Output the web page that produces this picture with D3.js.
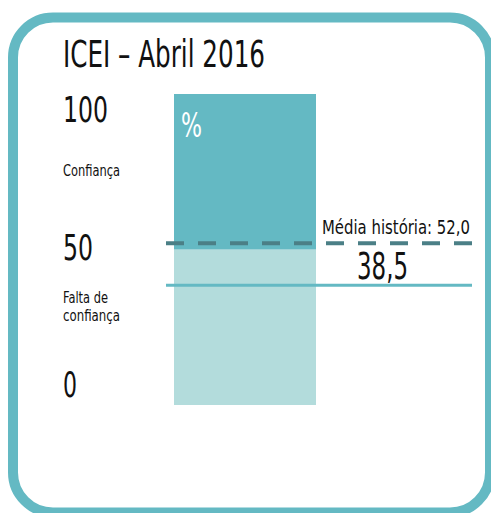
<!DOCTYPE html>
<html>
<head>
<meta charset="utf-8">
<script src="https://cdn.jsdelivr.net/npm/d3@7"></script>
<style>
  html, body { margin: 0; padding: 0; background: #fff; }
  svg { display: block; }
  text { font-family: "Liberation Sans Narrow", "DejaVu Sans Condensed", "Roboto", sans-serif; fill: #111; }
</style>
</head>
<body>
<div id="chart"></div>
<script>
// chart values
var title = "ICEI – Abril 2016";
var segmentNames = ["Falta de confiança", "Confiança"];
var segmentStarts = [0, 50];
var segmentEnds = [50, 100];
var tickValues = [0, 50, 100];
var tickLabels = ["0", "50", "100"];
var currentValue = 38.5;
var currentLabel = "38,5";
var historyValue = 52.0;
var historyLabel = "Média história: 52,0";

var w = 491, h = 513;

var svg = d3.select("#chart")
  .append("svg")
  .attr("width", w)
  .attr("height", h);

// rounded frame
svg.append("rect")
  .attr("x", 13)
  .attr("y", 17.5)
  .attr("width", 477)
  .attr("height", 495)
  .attr("rx", 40)
  .attr("fill", "#fff")
  .attr("stroke", "#64b9c3")
  .attr("stroke-width", 10);

//*** scales ***//
var y = d3.scaleLinear().domain([0, 100]).range([405, 94]);
// labels sit a little inside the bar ends
var labelY = d3.scaleLinear().domain([0, 100]).range([384, 109]);
var x = d3.scaleBand().domain(["ICEI"]).range([174, 316]).padding(0);

var segColors = ["#b3dcdc", "#64b9c3"];

svg.selectAll("rect.seg")
  .data(segmentStarts)
  .enter()
  .append("rect")
  .attr("class", "seg")
  .attr("x", x("ICEI"))
  .attr("width", x.bandwidth())
  .attr("y", function (d, i) { return y(segmentEnds[i]); })
  .attr("height", function (d, i) { return y(d) - y(segmentEnds[i]); })
  .attr("fill", function (d, i) { return segColors[i]; });

// title
svg.append("text")
  .attr("x", 63)
  .attr("y", 67)
  .attr("font-size", 37)
  .attr("textLength", 202)
  .attr("lengthAdjust", "spacingAndGlyphs")
  .text(title);

// tick labels
var tickWidths = [14, 30, 45];
svg.selectAll("text.tick")
  .data(tickValues)
  .enter()
  .append("text")
  .attr("class", "tick")
  .attr("x", 63)
  .attr("y", function (d) { return labelY(d) + 13; })
  .attr("font-size", 36)
  .attr("textLength", function (d, i) { return tickWidths[i]; })
  .attr("lengthAdjust", "spacingAndGlyphs")
  .text(function (d, i) { return tickLabels[i]; });

// segment names
svg.append("text")
  .attr("x", 63)
  .attr("y", labelY(75) - 2)
  .attr("font-size", 16)
  .attr("textLength", 57)
  .attr("lengthAdjust", "spacingAndGlyphs")
  .text(segmentNames[1]);

var low = svg.append("text")
  .attr("x", 63)
  .attr("y", labelY(25) - 12)
  .attr("font-size", 15);
low.append("tspan")
  .attr("x", 63)
  .attr("textLength", 45)
  .attr("lengthAdjust", "spacingAndGlyphs")
  .text("Falta de");
low.append("tspan")
  .attr("x", 63)
  .attr("dy", 18)
  .attr("textLength", 57)
  .attr("lengthAdjust", "spacingAndGlyphs")
  .text("confiança");

// percent sign in the bar
svg.append("text")
  .attr("x", x("ICEI") + 7)
  .attr("y", y(100) + 43)
  .attr("font-size", 34)
  .attr("textLength", 21)
  .attr("lengthAdjust", "spacingAndGlyphs")
  .style("fill", "#fff")
  .text("%");

// historical average (dashed)
svg.append("line")
  .attr("x1", 166)
  .attr("x2", 472)
  .attr("y1", y(historyValue))
  .attr("y2", y(historyValue))
  .attr("stroke", "#4b7f86")
  .attr("stroke-width", 4)
  .attr("stroke-dasharray", "18,14");

svg.append("text")
  .attr("x", 322)
  .attr("y", y(historyValue) - 9)
  .attr("font-size", 19)
  .attr("textLength", 148)
  .attr("lengthAdjust", "spacingAndGlyphs")
  .text(historyLabel);

// current value (solid)
svg.append("line")
  .attr("x1", 166)
  .attr("x2", 472)
  .attr("y1", y(currentValue))
  .attr("y2", y(currentValue))
  .attr("stroke", "#64b9c3")
  .attr("stroke-width", 3);

svg.append("text")
  .attr("x", 357)
  .attr("y", y(currentValue) - 6)
  .attr("font-size", 38)
  .attr("textLength", 51)
  .attr("lengthAdjust", "spacingAndGlyphs")
  .text(currentLabel);
</script>
</body>
</html>
